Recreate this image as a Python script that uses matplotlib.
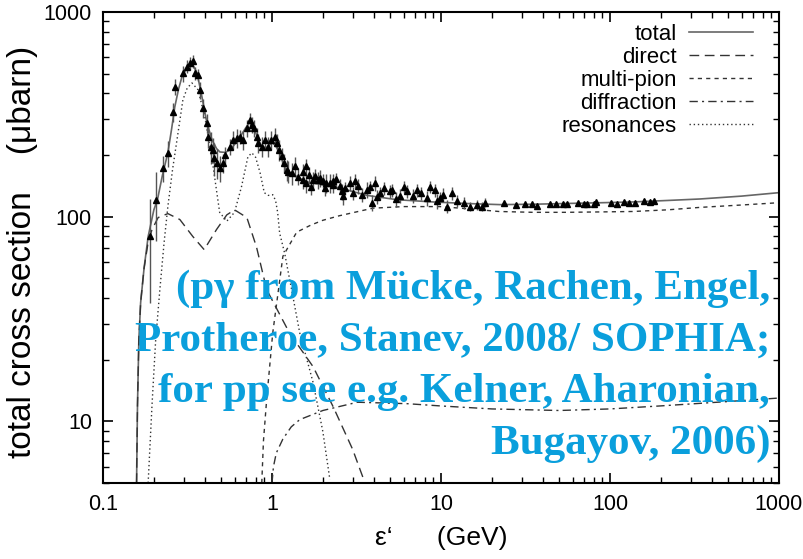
import numpy as np
import matplotlib
matplotlib.use("Agg")
import matplotlib.pyplot as plt

plt.rcParams['font.family'] = ['Liberation Sans', 'DejaVu Sans']

# model curves
tot_x = [0.158, 0.160, 0.163, 0.167, 0.175, 0.185, 0.20, 0.21, 0.225, 0.242, 0.255, 0.266, 0.28,
         0.293, 0.31, 0.327, 0.345, 0.36, 0.385, 0.412, 0.442, 0.47, 0.492, 0.53, 0.565, 0.60,
         0.646, 0.70, 0.74, 0.765, 0.79, 0.83, 0.875, 0.93, 1.0, 1.05, 1.11, 1.17, 1.23, 1.35,
         1.46, 1.61, 2.0, 2.53, 3.65, 5.5, 8.97, 14, 22.3, 35, 55.7, 90, 137, 220, 341, 600, 1000]
tot_y = [5, 12, 25, 38, 56, 80, 108, 121, 160, 205, 270, 344, 420,
         481, 525, 551, 540, 504, 385, 287, 237, 215, 207, 206, 212, 225,
         245, 272, 290, 288, 265, 238, 219, 218, 230, 222, 205, 180, 164, 160,
         154, 148, 143, 138, 127, 121, 118, 116, 114.5, 115, 116, 117, 118, 120, 122, 126, 131]

dir_x = [0.158, 0.160, 0.163, 0.167, 0.175, 0.185, 0.195, 0.212, 0.242, 0.285, 0.34, 0.397,
         0.47, 0.54, 0.6, 0.71, 0.81, 0.93, 1.27, 1.75, 2.3, 3.0, 3.55]
dir_y = [5, 12, 25, 38, 56, 75, 86.5, 99, 103.5, 96.8, 80, 69,
         86.6, 102, 108, 99, 71, 44, 27, 18.5, 11.8, 7.3, 5]

mp_x = [0.87, 0.89, 0.93, 1.01, 1.16, 1.4, 1.7, 2.0, 2.5, 3.95, 6, 9.85, 15, 22, 35, 55,
        90, 137, 220, 341, 600, 1000]
mp_y = [5, 8, 12.8, 27, 64, 84, 91, 96, 101, 110, 112, 112, 109, 106, 105, 105,
        105.5, 106, 108, 111, 114, 117]

dif_x = [1.0, 1.02, 1.06, 1.16, 1.3, 1.46, 2.0, 3.2, 6.3, 9.85, 20, 50, 100, 200, 500, 1000]
dif_y = [5, 6, 7, 8.2, 9.4, 10.2, 11.3, 12.4, 12.2, 11.9, 11.5, 11.3, 11.5, 11.9, 12.5, 13]

res_x = [0.185, 0.195, 0.205, 0.217, 0.23, 0.242, 0.258, 0.274, 0.297, 0.315, 0.336, 0.365,
         0.4, 0.44, 0.49, 0.54, 0.6, 0.66, 0.72, 0.76, 0.8, 0.85, 0.9, 0.95, 1.01, 1.05,
         1.08, 1.11, 1.19, 1.24, 1.3, 1.46, 1.75, 2.0, 2.2]
res_y = [5, 12, 25, 44, 75, 112, 170, 237, 372, 425, 450, 417,
         308, 196, 105, 95, 105, 140, 196, 205, 195, 164, 131, 127, 128, 120,
         105, 83, 66, 55, 45, 27, 15.5, 8.9, 5.2]

# measured points
pt_x = [0.190, 0.206, 0.225, 0.243, 0.26, 0.267, 0.296, 0.313, 0.327, 0.339, 0.35, 0.366,
        0.375, 0.392, 0.41, 0.42, 0.433, 0.445, 0.453, 0.47, 0.493, 0.515, 0.526, 0.565,
        0.59, 0.617, 0.646, 0.675, 0.708, 0.74, 0.757, 0.781, 0.81, 0.83, 0.87, 0.906,
        0.95, 0.99, 1.04, 1.064, 1.105, 1.14, 1.18, 1.22, 1.25, 1.31, 1.37, 1.43, 1.53,
        1.53, 1.6, 1.6, 1.65, 1.7, 1.75, 1.8, 1.88, 1.92, 2.0, 2.05, 2.1, 2.2, 2.31, 2.31,
        2.4, 2.53, 2.58, 2.64, 2.7, 2.9, 3.0, 3.1, 3.24, 3.4, 3.63, 3.8, 3.89, 4.07, 4.2,
        4.36, 4.6, 4.99, 5.11, 5.4, 5.72, 6.0, 6.26, 6.8, 7.18, 7.6, 8.23, 8.6, 9.21,
        9.42, 9.8, 10.3, 10.8, 11.6, 12.4, 13.6, 14.9, 16.3, 17.4, 18.2, 23.5, 27.9, 31.3,
        34.4, 37.2, 44.0, 48.1, 52.7, 55.3, 65.1, 69.8, 73.1, 80.4, 83.2, 100.8, 110,
        120.7, 129, 141, 158, 172, 183]
pt_y = [80, 121, 173, 205, 326, 432, 502, 541, 562, 573, 502, 493,
        416, 339, 286, 246, 220, 212, 193, 183, 173, 183, 200, 220,
        237, 242, 246, 237, 271, 297, 281, 271, 246, 229, 220, 237,
        220, 237, 246, 229, 212, 197, 183, 169, 166, 163, 176, 157, 151,
        166, 146, 176, 160, 140, 151, 158, 151, 154, 150, 138, 146, 146, 143, 149,
        152, 141, 133, 126, 138, 146, 130, 150, 141, 128, 135, 140, 117, 146, 125,
        130, 138, 133, 135, 122, 126, 140, 133, 126, 135, 130, 123, 140, 135,
        119, 124, 128, 112, 130, 119, 117, 112, 114, 112, 117, 116, 114.5, 115,
        115, 113, 115, 115, 115, 115, 116, 115, 115, 115, 117.5, 117, 115,
        118, 117, 117, 119.5, 117.5, 119]
pt_err = [42, 45, 25, 30, 35, 40, 45, 40, 40, 40, 35, 35,
          40, 35, 30, 30, 40, 30, 35, 30, 25, 20, 20, 20,
          25, 25, 20, 25, 25, 25, 25, 25, 25, 25, 25, 25,
          25, 25, 25, 25, 25, 20, 20, 20, 20, 20, 20, 15, 15,
          15, 15, 15, 15, 12, 15, 12, 15, 15, 12, 12, 15, 15, 12, 12,
          12, 12, 12, 12, 10, 12, 10, 12, 12, 10, 12, 10, 10, 12, 10,
          10, 10, 10, 10, 10, 10, 10, 10, 10, 10, 10, 10, 10, 10,
          10, 8, 10, 8, 10, 8, 8, 6, 6, 6, 6, 2, 2, 2,
          2, 2, 2, 2, 2, 2, 2, 2, 2, 2, 2, 2, 2,
          2, 2, 2, 2, 2, 2]

x_ticks = [0.1, 1, 10, 100, 1000]
x_labels = ["0.1", "1", "10", "100", "1000"]
y_ticks = [10, 100, 1000]
y_labels = ["10", "100", "1000"]

fig = plt.figure(figsize=(8.04, 5.59), dpi=100)
ax = fig.add_axes([0.1281, 0.136, 0.8408, 0.8426])

line_col = '#333333'
ax.plot(tot_x, tot_y, color='#666666', lw=1.2, label='total')
ax.plot(dir_x, dir_y, color=line_col, lw=1.0, dashes=(7, 4), label='direct')
ax.plot(mp_x, mp_y, color=line_col, lw=1.0, dashes=(3, 3), label='multi-pion')
ax.plot(dif_x, dif_y, color=line_col, lw=1.0, dashes=(6, 3, 1.5, 3), label='diffraction')
ax.plot(res_x, res_y, color=line_col, lw=1.0, dashes=(1, 2), label='resonances')

ax.errorbar(pt_x, pt_y, yerr=pt_err, fmt='^', ms=4.5, color='black',
            ecolor='#555555', elinewidth=1.0, capsize=0, zorder=3)

ax.set_xscale('log')
ax.set_yscale('log')
ax.set_xlim(0.1, 1000)
ax.set_ylim(5, 1000)
ax.set_xticks(x_ticks)
ax.set_xticklabels(x_labels)
ax.set_yticks(y_ticks)
ax.set_yticklabels(y_labels)
ax.tick_params(which='both', direction='in', top=True, right=True, labelsize=15.5, pad=8)
ax.tick_params(which='major', length=7, width=1.2)
ax.tick_params(which='minor', length=4, width=1.0)
ax.yaxis.set_minor_formatter(matplotlib.ticker.NullFormatter())
ax.xaxis.set_minor_formatter(matplotlib.ticker.NullFormatter())
for s in ax.spines.values():
    s.set_linewidth(1.5)

ax.set_xlabel("ε‘      (GeV)", fontsize=19, labelpad=8)
ax.set_ylabel("total cross section    (μbarn)", fontsize=24)
ax.yaxis.set_label_coords(-0.096, 0.49)

leg = ax.legend(loc='upper right', frameon=False, markerfirst=False, fontsize=16,
                handlelength=2.9, handletextpad=0.55, labelspacing=0.09,
                borderaxespad=0.3, bbox_to_anchor=(0.985, 1.008))

fig.text(0.958, 0.345,
         "(pγ from Mücke, Rachen, Engel,\nProtheroe, Stanev, 2008/ SOPHIA;\n"
         "for pp see e.g. Kelner, Aharonian,\nBugayov, 2006)",
         ha='right', va='center', multialignment='right', fontsize=31,
         fontweight='bold', family='Liberation Serif', color='#0a9fdc',
         linespacing=1.47)

fig.savefig("out.png", dpi=100)
